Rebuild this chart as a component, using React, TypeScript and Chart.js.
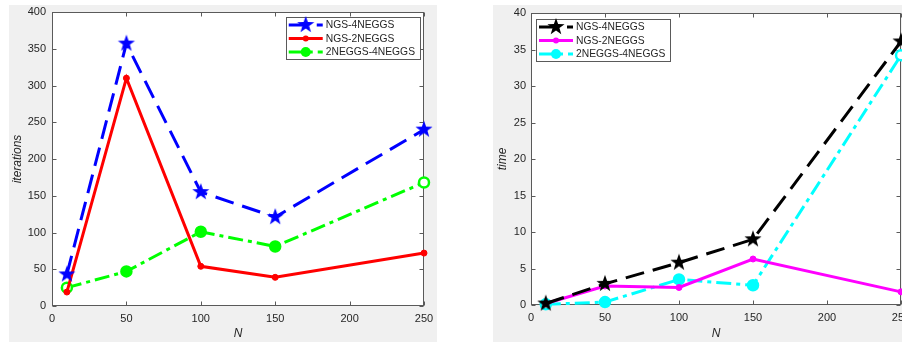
import React, { useEffect, useRef } from 'react';
import { Chart, registerables } from 'chart.js';
Chart.register(...registerables);

const N = [10, 50, 100, 150, 250];
const iterNGS4 = [43, 357, 155, 121, 240];
const iterNGS2 = [19, 310, 54, 39, 72];
const iter2to4 = [25, 47, 101, 81, 168];
const timeNGS4 = [0.2, 2.9, 5.8, 9.0, 36.1];
const timeNGS2 = [0.2, 2.6, 2.4, 6.3, 1.8];
const time2to4 = [0.1, 0.4, 3.5, 2.7, 34.2];
const seriesNames = ['NGS-4NEGGS', 'NGS-2NEGGS', '2NEGGS-4NEGGS'];
const xTicks = [0, 50, 100, 150, 200, 250];
const iterTicks = [0, 50, 100, 150, 200, 250, 300, 350, 400];
const timeTicks = [0, 5, 10, 15, 20, 25, 30, 35, 40];

const FONT = '"Liberation Sans", Arial, sans-serif';
const TXT = '#262626';

function makeStar(color: string, R: number) {
  const s = Math.ceil(R * 2 + 2);
  const c = document.createElement('canvas');
  c.width = s; c.height = s;
  const ctx = c.getContext('2d')!;
  ctx.beginPath();
  for (let i = 0; i < 10; i++) {
    const r = i % 2 ? R * 0.4 : R;
    const a = -Math.PI / 2 + (i * Math.PI) / 5;
    const x = s / 2 + r * Math.cos(a), y = s / 2 + r * Math.sin(a);
    if (i === 0) ctx.moveTo(x, y); else ctx.lineTo(x, y);
  }
  ctx.closePath();
  ctx.fillStyle = color;
  ctx.fill();
  return c;
}

type Spec = {
  width: number; height: number;
  area: { left: number; right: number; top: number; bottom: number };
  yTicks: number[]; yMax: number;
  yTitle: string; yTitleX: number;
  tickPad: number;
  colors: string[];
  series: number[][];
  legend: { left?: number; right?: number; top: number };
};

function buildChart(canvas: HTMLCanvasElement, sp: Spec) {
  const [c0, c1, c2] = sp.colors;
  const star = makeStar(c0, 9);
  const dashA = [19, 9];
  const dashDot = [15, 5, 4, 5];
  const toPts = (arr: number[]) => N.map((x, i) => ({ x, y: arr[i] }));
  const hollowBg = (c: string) => N.map((_, i) => (i === 0 || i === N.length - 1 ? '#ffffff' : c));

  const datasets: any[] = [
    {
      label: seriesNames[0], data: toPts(sp.series[0]), borderColor: c0, backgroundColor: c0,
      borderWidth: 3, borderDash: dashA, pointStyle: star, pointRadius: 9, clip: false, order: 0,
    },
    {
      label: seriesNames[1], data: toPts(sp.series[1]), borderColor: c1, backgroundColor: c1,
      borderWidth: 3, pointStyle: 'circle', pointRadius: 3, pointBorderWidth: 1, clip: false, order: 1,
    },
    {
      label: seriesNames[2], data: toPts(sp.series[2]), borderColor: c2, backgroundColor: c2,
      pointBackgroundColor: hollowBg(c2), pointBorderColor: c2,
      borderWidth: 3, borderDash: dashDot, pointStyle: 'circle', pointRadius: 5, pointBorderWidth: 2.5, clip: false, order: 2,
    },
  ];

  const a = sp.area;
  const fitY = (s: any) => { s.width = a.left; s.paddingTop = 0; s.paddingBottom = 0; s.paddingLeft = 0; s.paddingRight = 0; };
  const fitX = (s: any) => { s.height = sp.height - a.bottom; s.paddingLeft = 0; s.paddingRight = 0; s.paddingTop = 0; s.paddingBottom = 0; };

  const deco = {
    id: 'deco',
    beforeDraw(chart: any) {
      const { ctx, chartArea: ca } = chart;
      ctx.save();
      ctx.fillStyle = '#ffffff';
      ctx.fillRect(ca.left, ca.top, ca.right - ca.left, ca.bottom - ca.top);
      ctx.restore();
    },
    beforeDatasetsDraw(chart: any) {
      const { ctx, chartArea: ca, scales } = chart;
      ctx.save();
      ctx.strokeStyle = '#5a5a5a';
      ctx.lineWidth = 1;
      const L = Math.round(ca.left) + 0.5, R = Math.round(ca.right) - 0.5;
      const T = Math.round(ca.top) + 0.5, B = Math.round(ca.bottom) - 0.5;
      ctx.strokeRect(L, T, R - L, B - T);
      ctx.beginPath();
      const tl = 4;
      xTicks.forEach((v) => {
        const px = Math.round(scales.x.getPixelForValue(v)) + 0.5;
        ctx.moveTo(px, B); ctx.lineTo(px, B - tl);
        ctx.moveTo(px, T); ctx.lineTo(px, T + tl);
      });
      sp.yTicks.forEach((v) => {
        const py = Math.round(scales.y.getPixelForValue(v)) + 0.5;
        ctx.moveTo(L, py); ctx.lineTo(L + tl, py);
        ctx.moveTo(R, py); ctx.lineTo(R - tl, py);
      });
      ctx.stroke();
      ctx.restore();
    },
    afterDraw(chart: any) {
      const { ctx, chartArea: ca } = chart;
      ctx.save();
      ctx.fillStyle = TXT;
      ctx.font = `italic 12px ${FONT}`;
      ctx.textAlign = 'center';
      ctx.textBaseline = 'middle';
      ctx.fillText('N', (ca.left + ca.right) / 2, sp.height - 8);
      ctx.save();
      ctx.translate(sp.yTitleX, (ca.top + ca.bottom) / 2);
      ctx.rotate(-Math.PI / 2);
      ctx.fillText(sp.yTitle, 0, 0);
      ctx.restore();

      ctx.font = `10.3px ${FONT}`;
      const tw = Math.max(...seriesNames.map((s) => ctx.measureText(s).width));
      const w = 40 + tw + 5;
      const h = 42;
      const bx = sp.legend.left !== undefined ? ca.left + sp.legend.left : ca.right - sp.legend.right! - w;
      const by = ca.top + sp.legend.top;
      ctx.fillStyle = '#ffffff';
      ctx.fillRect(bx, by, w, h);
      ctx.strokeStyle = '#5a5a5a';
      ctx.lineWidth = 1;
      ctx.strokeRect(Math.round(bx) + 0.5, Math.round(by) + 0.5, Math.round(w), h);
      const dashes = [dashA, [], dashDot];
      sp.colors.forEach((col, i) => {
        const ry = by + 8 + i * 13.5;
        ctx.save();
        ctx.beginPath();
        ctx.strokeStyle = col;
        ctx.lineWidth = 3;
        ctx.setLineDash(dashes[i]);
        ctx.moveTo(bx + 3, ry);
        ctx.lineTo(bx + 37, ry);
        ctx.stroke();
        ctx.setLineDash([]);
        const mx = bx + 20;
        if (i === 0) {
          ctx.drawImage(star, mx - star.width / 2, ry - star.height / 2);
        } else if (i === 1) {
          ctx.beginPath(); ctx.fillStyle = col; ctx.arc(mx, ry, 3, 0, Math.PI * 2); ctx.fill();
        } else {
          ctx.beginPath(); ctx.fillStyle = col; ctx.arc(mx, ry, 5, 0, Math.PI * 2); ctx.fill();
        }
        ctx.restore();
        ctx.fillStyle = TXT;
        ctx.textAlign = 'left';
        ctx.textBaseline = 'middle';
        ctx.fillText(seriesNames[i], bx + 40, ry + 0.5);
      });
      ctx.restore();
    },
  };

  return new Chart(canvas, {
    type: 'line',
    data: { datasets },
    options: {
      responsive: false,
      animation: false,
      devicePixelRatio: 1,
      layout: { autoPadding: false, padding: { left: 0, top: a.top, right: sp.width - a.right, bottom: 0 } },
      plugins: { legend: { display: false }, tooltip: { enabled: false } },
      scales: {
        x: {
          type: 'linear', min: 0, max: 250,
          afterFit: fitX,
          afterBuildTicks: (s: any) => { s.ticks = xTicks.map((v) => ({ value: v })); },
          grid: { display: false, drawTicks: false },
          border: { display: false },
          ticks: { color: TXT, font: { family: FONT, size: 11 }, padding: 6, maxRotation: 0, autoSkip: false },
        },
        y: {
          type: 'linear', min: 0, max: sp.yMax,
          afterFit: fitY,
          afterBuildTicks: (s: any) => { s.ticks = sp.yTicks.map((v) => ({ value: v })); },
          grid: { display: false, drawTicks: false },
          border: { display: false },
          ticks: { color: TXT, font: { family: FONT, size: 11 }, padding: sp.tickPad, autoSkip: false },
        },
      },
    } as any,
    plugins: [deco],
  });
}

export default function App() {
  const leftRef = useRef<HTMLCanvasElement>(null);
  const rightRef = useRef<HTMLCanvasElement>(null);

  useEffect(() => {
    const c1 = buildChart(leftRef.current!, {
      width: 428, height: 337,
      area: { left: 43, right: 415, top: 7, bottom: 301 },
      yTicks: iterTicks, yMax: 400,
      yTitle: 'iterations', yTitleX: 9, tickPad: 6,
      colors: ['#0000ff', '#ff0000', '#00ff00'],
      series: [iterNGS4, iterNGS2, iter2to4],
      legend: { right: 4, top: 5 },
    });
    const c2 = buildChart(rightRef.current!, {
      width: 409, height: 337,
      area: { left: 38, right: 408, top: 8, bottom: 300 },
      yTicks: timeTicks, yMax: 40,
      yTitle: 'time', yTitleX: 10, tickPad: 5,
      colors: ['#000000', '#ff00ff', '#00ffff'],
      series: [timeNGS4, timeNGS2, time2to4],
      legend: { left: 5, top: 6 },
    });
    return () => { c1.destroy(); c2.destroy(); };
  }, []);

  return (
    <div style={{ position: 'absolute', left: 0, top: 0, width: 902, height: 344, background: '#ffffff', overflow: 'hidden' }}>
      <div style={{ position: 'absolute', left: 9, top: 5, width: 428, height: 337, background: '#f0f0f0' }}>
        <canvas ref={leftRef} width={428} height={337} style={{ display: 'block' }} />
      </div>
      <div style={{ position: 'absolute', left: 493, top: 5, width: 409, height: 337, background: '#f0f0f0' }}>
        <canvas ref={rightRef} width={409} height={337} style={{ display: 'block' }} />
      </div>
    </div>
  );
}
